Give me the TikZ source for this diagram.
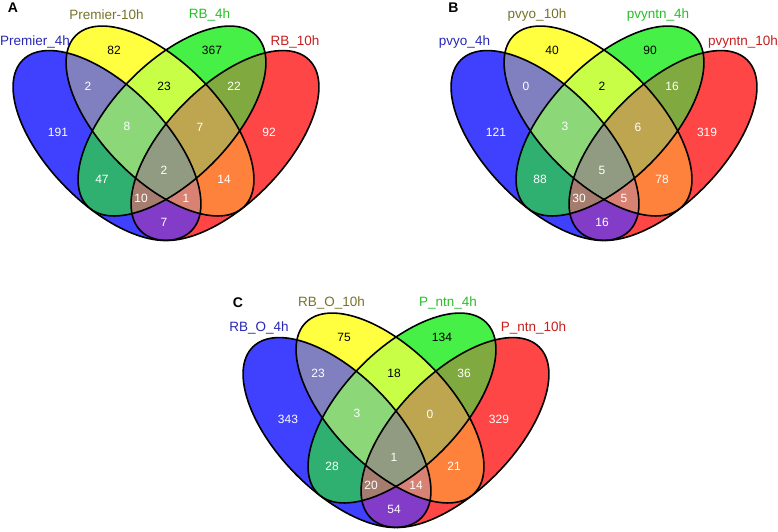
\documentclass[tikz,border=0pt]{standalone}
\usepackage{fontspec}
\setmainfont{Liberation Sans}
\definecolor{cB}{RGB}{64,64,255}
\definecolor{cY}{RGB}{255,255,64}
\definecolor{cG}{RGB}{70,240,70}
\definecolor{cR}{RGB}{255,70,70}
\definecolor{cBY}{RGB}{128,128,192}
\definecolor{cBG}{RGB}{48,176,112}
\definecolor{cBR}{RGB}{130,60,200}
\definecolor{cYG}{RGB}{200,255,70}
\definecolor{cYR}{RGB}{255,130,60}
\definecolor{cGR}{RGB}{128,170,64}
\definecolor{cBYG}{RGB}{140,215,120}
\definecolor{cBYR}{RGB}{215,130,115}
\definecolor{cBGR}{RGB}{165,125,110}
\definecolor{cYGR}{RGB}{190,165,80}
\definecolor{cBYGR}{RGB}{145,155,130}
\definecolor{lB}{RGB}{40,40,180}
\definecolor{lY}{RGB}{120,115,40}
\definecolor{lG}{RGB}{40,190,40}
\definecolor{lR}{RGB}{200,30,30}
\tikzset{
  eB/.style={xshift=107pt,yshift=-145.5pt,rotate=-45.5},
  eR/.style={xshift=225pt,yshift=-145.5pt,rotate=45.5},
  eY/.style={xshift=160pt,yshift=-121pt,rotate=-45.5},
  eG/.style={xshift=172pt,yshift=-121pt,rotate=45.5},
  num/.style={text=white,font=\fontsize{12}{12}\selectfont,inner sep=0pt},
  numk/.style={num,text=black},
  setlab/.style={font=\fontsize{13.5}{13.5}\selectfont,inner sep=0pt},
  plab/.style={font=\bfseries\fontsize{14}{14}\selectfont,inner sep=0pt},
  outline/.style={draw=black,line width=1.6pt},
}
\newcommand\vshape[2]{\path[#1,#2] (0pt,0pt) ellipse [x radius=120pt, y radius=58.6pt];}
\newcommand\vennregions{%
  \vshape{eB}{fill=cB}
  \vshape{eY}{fill=cY}
  \vshape{eG}{fill=cG}
  \vshape{eR}{fill=cR}
  \begin{scope}\vshape{eB}{clip}\vshape{eY}{fill=cBY}\end{scope}
  \begin{scope}\vshape{eB}{clip}\vshape{eG}{fill=cBG}\end{scope}
  \begin{scope}\vshape{eB}{clip}\vshape{eR}{fill=cBR}\end{scope}
  \begin{scope}\vshape{eY}{clip}\vshape{eG}{fill=cYG}\end{scope}
  \begin{scope}\vshape{eY}{clip}\vshape{eR}{fill=cYR}\end{scope}
  \begin{scope}\vshape{eG}{clip}\vshape{eR}{fill=cGR}\end{scope}
  \begin{scope}\vshape{eB}{clip}\vshape{eY}{clip}\vshape{eG}{fill=cBYG}\end{scope}
  \begin{scope}\vshape{eB}{clip}\vshape{eY}{clip}\vshape{eR}{fill=cBYR}\end{scope}
  \begin{scope}\vshape{eB}{clip}\vshape{eG}{clip}\vshape{eR}{fill=cBGR}\end{scope}
  \begin{scope}\vshape{eY}{clip}\vshape{eG}{clip}\vshape{eR}{fill=cYGR}\end{scope}
  \begin{scope}\vshape{eB}{clip}\vshape{eY}{clip}\vshape{eG}{clip}\vshape{eR}{fill=cBYGR}\end{scope}
  \vshape{eB}{outline}
  \vshape{eY}{outline}
  \vshape{eG}{outline}
  \vshape{eR}{outline}
}
\begin{document}
\begin{tikzpicture}[x=1pt,y=-1pt]
\useasboundingbox (0,0) rectangle (778,531);
\fill[white] (0,0) rectangle (778,531);
% ---------- Panel A
\begin{scope}
  \vennregions
  \node[plab] (pA) at (13,8) {A};
  \node[setlab,text=lB] (sA1) at (35,41.7) {Premier\_4h};
  \node[setlab,text=lY] (sA2) at (106.5,15) {Premier-10h};
  \node[setlab,text=lG] (sA3) at (209.5,15) {RB\_4h};
  \node[setlab,text=lR] (sA4) at (295,41.7) {RB\_10h};
  \node[numk] (a1) at (114,50) {82};
  \node[numk] (a2) at (212,50) {367};
  \node[num] (a3) at (88,86) {2};
  \node[numk] (a4) at (164,86) {23};
  \node[num] (a5) at (234,86) {22};
  \node[num] (a6) at (58,132) {191};
  \node[num] (a7) at (127,126) {8};
  \node[num] (a8) at (200,127) {7};
  \node[num] (a9) at (269,132) {92};
  \node[num] (a10) at (102,179) {47};
  \node[num] (a11) at (164,170) {2};
  \node[num] (a12) at (224,179) {14};
  \node[num] (a13) at (141,198) {10};
  \node[num] (a14) at (186,198) {1};
  \node[num] (a15) at (164,222) {7};
\end{scope}
% ---------- Panel B
\begin{scope}[xshift=438pt]
  \vennregions
  \node[plab] (pB) at (15.5,7.5) {B};
  \node[setlab,text=lB] (sB1) at (26.5,41.7) {pvyo\_4h};
  \node[setlab,text=lY] (sB2) at (99,15) {pvyo\_10h};
  \node[setlab,text=lG] (sB3) at (220,15) {pvyntn\_4h};
  \node[setlab,text=lR] (sB4) at (305,41.7) {pvyntn\_10h};
  \node[numk] (b1) at (114,50) {40};
  \node[numk] (b2) at (212,50) {90};
  \node[num] (b3) at (88,86) {0};
  \node[numk] (b4) at (164,86) {2};
  \node[num] (b5) at (234,86) {16};
  \node[num] (b6) at (58,132) {121};
  \node[num] (b7) at (127,126) {3};
  \node[num] (b8) at (200,127) {6};
  \node[num] (b9) at (269,132) {319};
  \node[num] (b10) at (102,179) {88};
  \node[num] (b11) at (164,170) {5};
  \node[num] (b12) at (224,179) {78};
  \node[num] (b13) at (141,198) {30};
  \node[num] (b14) at (186,198) {5};
  \node[num] (b15) at (164,222) {16};
\end{scope}
% ---------- Panel C
\begin{scope}[xshift=230pt,yshift=-287pt]
  \vennregions
  \node[plab] (pC) at (8,16) {C};
  \node[setlab,text=lB] (sC1) at (29,41.3) {RB\_O\_4h};
  \node[setlab,text=lY] (sC2) at (101.5,16.3) {RB\_O\_10h};
  \node[setlab,text=lG] (sC3) at (218,16.3) {P\_ntn\_4h};
  \node[setlab,text=lR] (sC4) at (303.5,41.3) {P\_ntn\_10h};
  \node[numk] (c1) at (114,50) {75};
  \node[numk] (c2) at (212,50) {134};
  \node[num] (c3) at (88,86) {23};
  \node[numk] (c4) at (164,86) {18};
  \node[num] (c5) at (234,86) {36};
  \node[num] (c6) at (58,132) {343};
  \node[num] (c7) at (127,126) {3};
  \node[num] (c8) at (200,127) {0};
  \node[num] (c9) at (269,132) {329};
  \node[num] (c10) at (102,179) {28};
  \node[num] (c11) at (164,170) {1};
  \node[num] (c12) at (224,179) {21};
  \node[num] (c13) at (141,198) {20};
  \node[num] (c14) at (186,198) {14};
  \node[num] (c15) at (164,222) {54};
\end{scope}
\end{tikzpicture}
\end{document}
